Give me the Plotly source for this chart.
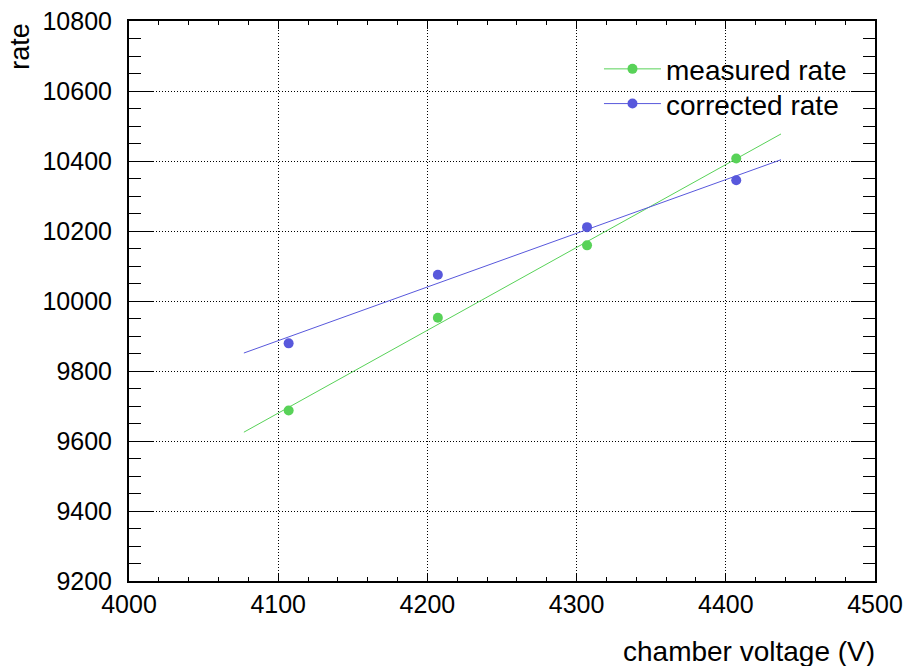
import numpy as np
import plotly.graph_objects as go

voltage = [4107, 4207, 4307, 4407]
measured_rate = [9687, 9952, 10159, 10407]
corrected_rate = [9879, 10075, 10211, 10345]

x_range = [4000, 4500]
y_range = [9200, 10800]
x_ticks = [4000, 4100, 4200, 4300, 4400, 4500]
y_ticks = [9200, 9400, 9600, 9800, 10000, 10200, 10400, 10600, 10800]

green = "#58d258"
blue = "#5858dc"

FONT = "Liberation Sans, Arial, Helvetica, sans-serif"

fit_x = np.linspace(min(voltage) - 30, max(voltage) + 30, 50)

fig = go.Figure()
for name, vals, col, leg in [("measured rate", measured_rate, green, "legend"),
                             ("corrected rate", corrected_rate, blue, "legend2")]:
    p = np.polyfit(voltage, vals, 1)
    fig.add_trace(go.Scatter(x=fit_x, y=np.polyval(p, fit_x), mode="lines",
                             line=dict(color=col, width=1), showlegend=False,
                             hoverinfo="skip"))
    fig.add_trace(go.Scatter(x=voltage, y=vals, mode="markers", name=name,
                             marker=dict(color=col, size=10),
                             showlegend=False))
    # legend entry
    fig.add_trace(go.Scatter(x=[None], y=[None], mode="markers+lines", name=name,
                             marker=dict(color=col, size=10),
                             line=dict(color=col, width=1), legend=leg))

axis_common = dict(
    showline=True, linecolor="black", linewidth=2, mirror="allticks",
    ticks="inside", tickcolor="black", tickwidth=1,
    showgrid=True, gridcolor="black", griddash="1px,2px", gridwidth=1,
    zeroline=False, tickformat="d", automargin=False,
    tickfont=dict(family=FONT, size=25, color="black"),
)

fig.update_xaxes(range=x_range, tickvals=x_ticks, ticklen=8,
                 minor=dict(dtick=20, ticks="inside", ticklen=4, tickcolor="black", showgrid=False),
                 **axis_common)
fig.update_yaxes(range=y_range, tickvals=y_ticks, ticklen=24, ticklabelstandoff=10,
                 minor=dict(dtick=50, ticks="inside", ticklen=12, tickcolor="black", showgrid=False),
                 **axis_common)

fig.add_annotation(text="rate", xref="paper", yref="paper", x=-0.147, y=1.0,
                   xanchor="center", yanchor="top", textangle=-90, showarrow=False,
                   font=dict(family=FONT, size=27, color="black"))
fig.add_annotation(text="chamber voltage (V)", xref="paper", yref="paper", x=1.003, y=-0.125,
                   xanchor="right", yanchor="middle", showarrow=False,
                   font=dict(family=FONT, size=28, color="black"))

leg_common = dict(xanchor="left", yanchor="middle", bgcolor="rgba(0,0,0,0)",
                  font=dict(family=FONT, size=28, color="black"), itemwidth=57)

fig.update_layout(
    width=909, height=666,
    margin=dict(l=129, r=34, t=21, b=85, autoexpand=False),
    paper_bgcolor="white", plot_bgcolor="white",
    showlegend=True,
    legend=dict(x=0.63, y=0.914, **leg_common),
    legend2=dict(x=0.63, y=0.852, **leg_common),
)

fig.write_html("out.html")
